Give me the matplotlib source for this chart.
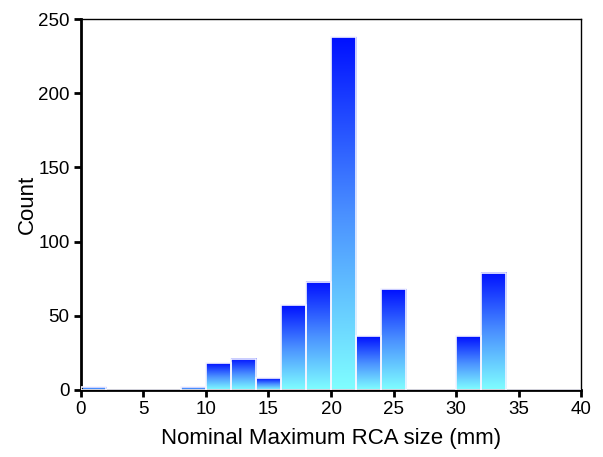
import matplotlib.pyplot as plt
import numpy as np
from matplotlib.colors import LinearSegmentedColormap

plt.rcParams['font.family'] = ['Liberation Sans', 'DejaVu Sans']

# histogram bins (mm) and counts
bin_left = [0, 2, 4, 6, 8, 10, 12, 14, 16, 18, 20, 22, 24, 26, 28, 30, 32, 34, 36, 38]
counts = [2, 0, 0, 0, 2, 18, 21, 8, 57, 73, 238, 36, 68, 0, 0, 36, 79, 0, 0, 0]
bin_width = 2
x_ticks = [0, 5, 10, 15, 20, 25, 30, 35, 40]
y_ticks = [0, 50, 100, 150, 200, 250]

cmap = LinearSegmentedColormap.from_list('grad', ['#80ffff', '#4a90ff', '#0010ff'])

fig = plt.figure(figsize=(6.03, 4.57), dpi=100)
ax = fig.add_axes([0.134, 0.147, 0.830, 0.811])

bars = ax.bar(bin_left, counts, width=bin_width, align='edge',
              facecolor='none', edgecolor='#f4f4ff', linewidth=1.2, zorder=3)

grad = np.linspace(0, 1, 256).reshape(-1, 1)
for b in bars:
    h = b.get_height()
    if h <= 0:
        continue
    x0 = b.get_x()
    ax.imshow(grad, extent=[x0, x0 + b.get_width(), 0, h], origin='lower',
              aspect='auto', cmap=cmap, zorder=2)

ax.set_xlim(0, 40)
ax.set_ylim(0, 250)
ax.set_xticks(x_ticks)
ax.set_yticks(y_ticks)
ax.tick_params(labelsize=13.5, width=2, length=5, direction='out', pad=3)
ax.tick_params(top=False, right=False)
for side in ['left', 'bottom']:
    ax.spines[side].set_linewidth(2)
for side in ['top', 'right']:
    ax.spines[side].set_linewidth(1)

ax.set_xlabel('Nominal Maximum RCA size (mm)', fontsize=16, labelpad=7)
ax.set_ylabel('Count', fontsize=16, labelpad=0)

fig.savefig('out.png', dpi=100)
